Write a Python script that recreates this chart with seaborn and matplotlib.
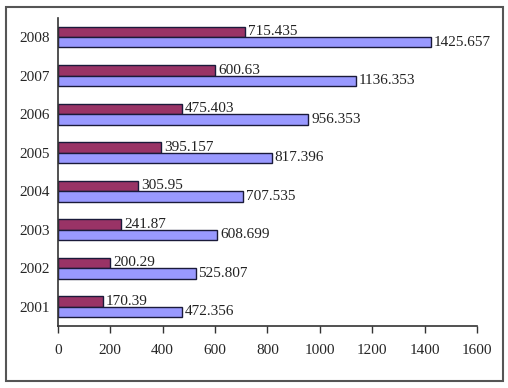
import pandas as pd
import matplotlib.pyplot as plt
from matplotlib.patches import Rectangle
import seaborn as sns

years = ['2008', '2007', '2006', '2005', '2004', '2003', '2002', '2001']
series_a = [715.435, 600.63, 475.403, 395.157, 305.95, 241.87, 200.29, 170.39]
series_b = [1425.657, 1136.353, 956.353, 817.396, 707.535, 608.699, 525.807, 472.356]
xticks = [0, 200, 400, 600, 800, 1000, 1200, 1400, 1600]

df = pd.DataFrame({
    'year': years * 2,
    'value': series_a + series_b,
    'series': ['A'] * len(years) + ['B'] * len(years),
})

sns.set_style('white')
plt.rcParams['font.family'] = ['Liberation Serif', 'DejaVu Serif']

fig = plt.figure(figsize=(5.08, 3.88), dpi=100)
ax = fig.add_axes([0.114, 0.160, 0.825, 0.794])

sns.barplot(data=df, x='value', y='year', hue='series', order=years,
            hue_order=['A', 'B'], palette=['#993366', '#9999FF'],
            saturation=1, orient='h', width=0.54, edgecolor='#1a1a3a',
            linewidth=1.0, legend=False, ax=ax)

for cont, labels in zip(ax.containers, [series_a, series_b]):
    ax.bar_label(cont, labels=[str(v) for v in labels], padding=2,
                 fontsize=11, color='#222222')

ax.set_xlim(0, 1600)
ax.set_xticks(xticks)
ax.set_xlabel('')
ax.set_ylabel('')
ax.set_yticks([i - 0.5 for i in range(len(years) + 1)], minor=True)
ax.tick_params(axis='y', which='major', length=0, labelsize=11, pad=6)
ax.tick_params(axis='y', which='minor', length=5, direction='out', color='#333333', width=1)
ax.tick_params(axis='x', length=5, direction='out', color='#333333', width=1,
               labelsize=11, pad=8, bottom=True)
ax.set_ylim(len(years) - 0.5, -0.5)

sns.despine(ax=ax)
for s in ['left', 'bottom']:
    ax.spines[s].set_color('#333333')
    ax.spines[s].set_linewidth(1.2)

fig.patches.append(Rectangle((0.012, 0.018), 0.978, 0.963, transform=fig.transFigure,
                             fill=False, edgecolor='#555555', linewidth=1.5))

fig.savefig('out.png', dpi=100)
